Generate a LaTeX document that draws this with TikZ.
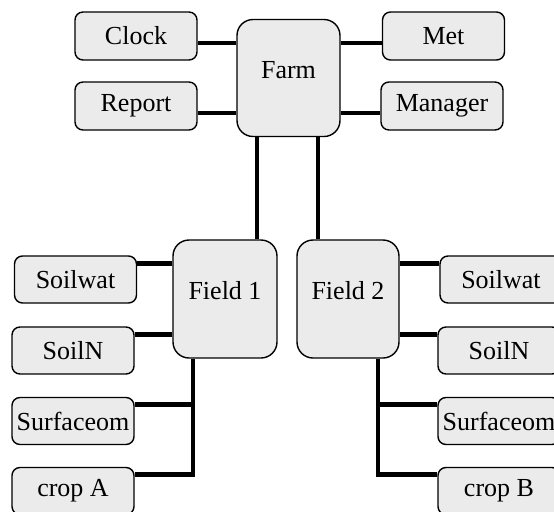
\documentclass[tikz,border=0pt]{standalone}
\usepackage{fontspec}
\setmainfont{Liberation Serif}
\tikzset{
  unit/.style={draw, line width=0.7pt, fill=black!8, rounded corners=4pt,
               font=\fontsize{13}{15}\selectfont, inner sep=0pt,
               minimum width=61pt, minimum height=24pt},
  bigunit/.style={unit, rounded corners=8pt, text height=9pt, text depth=9pt},
  link/.style={line width=2.4pt},
}

\begin{document}
\begin{tikzpicture}[
  x=0.5pt,
  y=-0.5pt,
]
\clip (0,0) rectangle (554,511);

% top level
\node [bigunit, minimum width=51.5pt, minimum height=58.5pt] (farm) at (288.5,78) {Farm};
\node [unit] (clock)   at (136,36)    {Clock};
\node [unit] (report)  at (136,106)   {Report};
\node [unit] (met)     at (443.5,36)  {Met};
\node [unit] (manager) at (442,106)   {Manager};

% paddocks
\node [bigunit, minimum width=52pt, minimum height=59pt] (field1) at (225,299) {Field 1};
\node [bigunit, minimum width=51pt, minimum height=59pt] (field2) at (348,299) {Field 2};

\foreach [count=\i] \x/\y/\t in {75.5/279.5/Soilwat, 73/350.5/SoilN, 73/421/Surfaceom, 73/491/crop A}
  {
   \node [unit, minimum height=23.5pt] (l-\i) at (\x,\y) {\t};
  }
\foreach [count=\i] \x/\y/\t in {501/279.5/Soilwat, 499/350.5/SoilN, 499/421/Surfaceom, 499/491/crop B}
  {
   \node [unit, minimum height=23.5pt] (r-\i) at (\x,\y) {\t};
  }

\coordinate (f1-stem) at ([xshift=-16pt]field1.south);
\coordinate (f2-stem) at ([xshift=15pt]field2.south);

% connectors to the farm
\draw [link] ([yshift=-3.5pt]clock.east)   -- ([yshift=-3.5pt]clock.east -| farm.west);
\draw [link] ([yshift=-3.5pt]report.east)  -- ([yshift=-3.5pt]report.east -| farm.west);
\draw [link] ([yshift=-3.5pt]met.west)     -- ([yshift=-3.5pt]met.west -| farm.east);
\draw [link] ([yshift=-3.5pt]manager.west) -- ([yshift=-3.5pt]manager.west -| farm.east);
\draw [link] ([xshift=-15.75pt]farm.south) -- ([xshift=-15.75pt]farm.south |- field1.north);
\draw [link] ([xshift=14.75pt]farm.south)  -- ([xshift=14.75pt]farm.south |- field2.north);

% connectors to the fields
\draw [link] ([yshift=-4pt]l-1.north east) -- ([yshift=-4pt]l-1.north east -| field1.west);
\draw [link] ([yshift=-4pt]l-2.north east) -- ([yshift=-4pt]l-2.north east -| field1.west);
\draw [link] (f1-stem) |- ([yshift=-4pt]l-4.north east);
\draw [link] ([yshift=-4pt]l-3.north east) -- ([yshift=-4pt]l-3.north east -| f1-stem);

\draw [link] ([yshift=-4pt]r-1.north west) -- ([yshift=-4pt]r-1.north west -| field2.east);
\draw [link] ([yshift=-4pt]r-2.north west) -- ([yshift=-4pt]r-2.north west -| field2.east);
\draw [link] (f2-stem) |- ([yshift=-4pt]r-4.north west);
\draw [link] ([yshift=-4pt]r-3.north west) -- ([yshift=-4pt]r-3.north west -| f2-stem);

\end{tikzpicture}
\end{document}
